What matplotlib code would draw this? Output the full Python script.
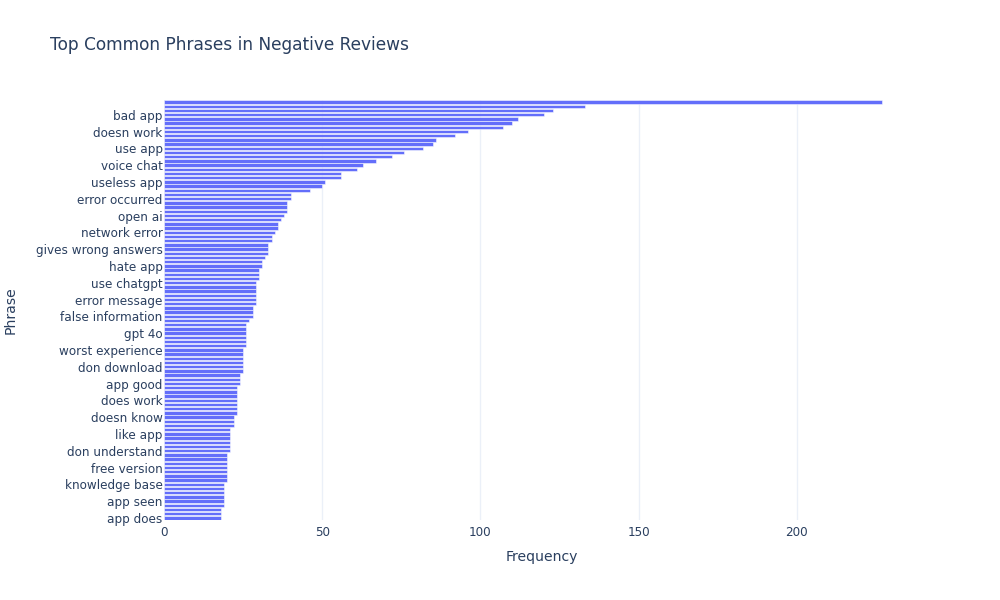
import numpy as np
import matplotlib
matplotlib.use("Agg")
import matplotlib.pyplot as plt

plt.rcParams['font.family'] = ['DejaVu Sans']

# phrases ordered from most frequent (top bar) to least frequent (bottom bar)
phrases = [
    "chat gpt", "app doesn", "waste time", "bad app", "ai app", "wrong answers",
    "app just", "doesn work", "worst app", "just says", "app bad", "use app",
    "doesn even", "don like", "customer service", "voice chat", "chat history",
    "new update", "app crashes", "useless app", "doesn answer", "phone number",
    "something went", "error occurred", "went wrong", "app terrible",
    "doesn understand", "open ai", "voice mode", "keeps saying", "ai doesn",
    "network error", "poor app", "make sense", "don know", "gives wrong answers",
    "doesn give", "time trying", "free trial", "hate app", "pretty bad",
    "waste money", "app store", "use chatgpt", "wrong information", "app keeps",
    "bad experience", "error message", "ask question", "gives wrong",
    "paid version", "false information", "stopped working", "doesn provide",
    "really bad", "gpt 4o", "sign account", "wrong answer", "ask questions",
    "worst experience", "terrible app", "fake app", "log account",
    "don download", "app useless", "useless ai", "google account", "app good",
    "answer questions", "don waste", "app stopped", "does work", "app works",
    "new chat", "lot mistakes", "doesn know", "image generation", "dont know",
    "getting worse", "like app", "text speech", "simple questions",
    "login issue", "don understand", "error messages", "math problems",
    "just doesn", "free version", "app crashing", "doesn allow",
    "correct answer", "knowledge base", "start new", "bad ai", "doesn respond",
    "app seen", "worse worse", "app says", "don use", "app does",
]

counts = [
    227, 133, 123, 120, 112, 110, 107, 96, 92, 86,
    85, 82, 76, 72, 67, 63, 61, 56, 56, 51,
    50, 46, 40, 40, 39, 39, 39, 38, 37, 36,
    36, 35, 34, 34, 33, 33, 33, 32, 31, 31,
    30, 30, 30, 29, 29, 29, 29, 29, 29, 28,
    28, 28, 27, 26, 26, 26, 26, 26, 26, 25,
    25, 25, 25, 25, 25, 24, 24, 24, 23, 23,
    23, 23, 23, 23, 23, 22, 22, 22, 21, 21,
    21, 21, 21, 21, 20, 20, 20, 20, 20, 20,
    20, 19, 19, 19, 19, 19, 19, 18, 18, 18,
]

n = len(phrases)
pos = np.arange(n)[::-1]  # first phrase on top

fig = plt.figure(figsize=(10, 6), dpi=100)
ax = fig.add_axes([0.164, 0.1333, 0.756, 0.7])

text_color = "#2a3f5f"
ax.barh(pos, counts, height=0.8, color="#636efa", edgecolor="white",
        linewidth=0.36, zorder=3)

ax.set_xlim(0, max(counts) * 1.0526)
ax.set_ylim(-0.5, n - 0.5)

ax.set_xticks([0, 50, 100, 150, 200])
ax.grid(axis="x", color="#ebf0f8", linewidth=1, zorder=0)
ax.axvline(0, color="#ebf0f8", linewidth=2, zorder=1)

# plotly only labels every 4th category
shown = list(range(0, n, 4))
ax.set_yticks([pos[n - 1 - p] for p in shown])
ax.set_yticklabels([phrases[n - 1 - p] for p in shown])

for s in ax.spines.values():
    s.set_visible(False)
ax.tick_params(axis="y", length=0, pad=1, labelsize=8.64, labelcolor=text_color)
ax.tick_params(axis="x", length=0, pad=4, labelsize=8.64, labelcolor=text_color)

ax.set_xlabel("Frequency", fontsize=10.1, color=text_color, labelpad=8)
ax.set_ylabel("Phrase", fontsize=10.1, color=text_color)
ax.yaxis.set_label_coords(-0.194, 0.5)

fig.text(0.05, 0.925, "Top Common Phrases in Negative Reviews", fontsize=12.24,
         color=text_color, ha="left", va="center")

fig.savefig("out.png", dpi=100, facecolor="white")
